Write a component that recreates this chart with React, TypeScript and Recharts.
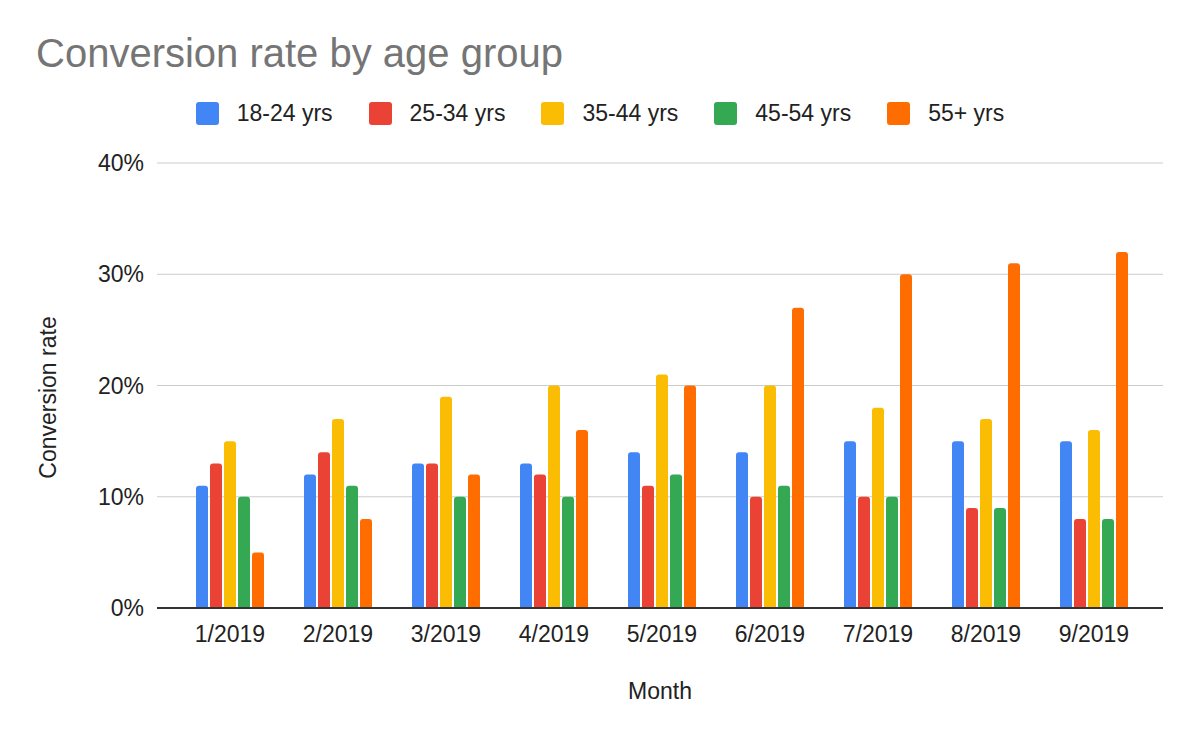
import React from 'react';
import { BarChart, Bar, XAxis, YAxis, CartesianGrid, Legend } from 'recharts';

const FONT = '"Liberation Sans", Arial, sans-serif';
const TEXT_SIZE = 23;

// Monthly conversion rate (%) per age group
const months = ['1/2019', '2/2019', '3/2019', '4/2019', '5/2019', '6/2019', '7/2019', '8/2019', '9/2019'];
const age18to24 = [11, 12, 13, 13, 14, 14, 15, 15, 15];
const age25to34 = [13, 14, 13, 12, 11, 10, 10, 9, 8];
const age35to44 = [15, 17, 19, 20, 21, 20, 18, 17, 16];
const age45to54 = [10, 11, 10, 10, 12, 11, 10, 9, 8];
const age55plus = [5, 8, 12, 16, 20, 27, 30, 31, 32];
const yTicks = [0, 10, 20, 30, 40];

const seriesDefs = [
  { key: 'a1824', name: '18-24 yrs', color: '#4285F4', values: age18to24 },
  { key: 'a2534', name: '25-34 yrs', color: '#EA4335', values: age25to34 },
  { key: 'a3544', name: '35-44 yrs', color: '#FBBC04', values: age35to44 },
  { key: 'a4554', name: '45-54 yrs', color: '#34A853', values: age45to54 },
  { key: 'a55', name: '55+ yrs', color: '#FF6D01', values: age55plus },
];

const chartData = months.map((month, i) => {
  const row: Record<string, string | number> = { month };
  seriesDefs.forEach((s) => {
    row[s.key] = s.values[i];
  });
  return row;
});

function LegendRow(props: any) {
  const payload = props.payload || [];
  return (
    <div style={{ display: 'flex', justifyContent: 'center', alignItems: 'center', width: 1200 }}>
      {payload.map((entry: any, i: number) => (
        <div key={entry.value} style={{ display: 'flex', alignItems: 'center', marginLeft: i === 0 ? 0 : 36 }}>
          <div style={{ width: 23, height: 23, borderRadius: 3, background: entry.color, marginRight: 18 }} />
          <span style={{ fontFamily: FONT, fontSize: TEXT_SIZE, lineHeight: '23px', color: '#222' }}>{entry.value}</span>
        </div>
      ))}
    </div>
  );
}

function YTitle(props: any) {
  const vb = props.viewBox || { x: 0, y: 0, width: 0, height: 0 };
  const x = vb.x + 56;
  const y = vb.y + vb.height / 2 + 12;
  return (
    <text
      x={x}
      y={y}
      transform={`rotate(-90 ${x} ${y})`}
      textAnchor="middle"
      fill="#222"
      fontSize={TEXT_SIZE}
      fontFamily={FONT}
    >
      {props.value}
    </text>
  );
}

export default function App() {
  return (
    <div style={{ position: 'absolute', left: 0, top: 0, width: 1200, height: 742, background: '#fff' }}>
      <div
        style={{
          position: 'absolute',
          left: 36,
          top: 33,
          fontFamily: FONT,
          fontSize: 40,
          lineHeight: '40px',
          color: '#757575',
          whiteSpace: 'nowrap',
        }}
      >
        Conversion rate by age group
      </div>
      <BarChart
        width={1200}
        height={742}
        data={chartData}
        margin={{ top: 163, right: 37, bottom: 0, left: 0 }}
        barSize={12}
        barGap={2}
        style={{ fontFamily: FONT }}
      >
        <CartesianGrid vertical={false} stroke="#cccccc" />
        <XAxis
          dataKey="month"
          height={134}
          padding={{ left: 19, right: 15 }}
          axisLine={{ stroke: '#333333', strokeWidth: 2 }}
          tickLine={false}
          tickSize={6}
          tickMargin={12}
          tick={{ fill: '#222', fontSize: TEXT_SIZE, fontFamily: FONT }}
          label={{ value: 'Month', position: 'insideBottom', offset: 43, fill: '#222', fontSize: TEXT_SIZE, fontFamily: FONT }}
        />
        <YAxis
          width={157}
          domain={[0, 40]}
          ticks={yTicks}
          axisLine={false}
          tickLine={false}
          tickSize={6}
          tickMargin={7}
          tickFormatter={(v: number) => `${v}%`}
          tick={{ fill: '#222', fontSize: TEXT_SIZE, fontFamily: FONT }}
          label={{ value: 'Conversion rate', content: YTitle }}
        />
        <Legend
          verticalAlign="middle"
          align="center"
          wrapperStyle={{ top: 102, left: 0, width: 1200 }}
          content={LegendRow}
        />
        {seriesDefs.map((s) => (
          <Bar key={s.key} dataKey={s.key} name={s.name} fill={s.color} radius={[3, 3, 0, 0]} isAnimationActive={false} />
        ))}
      </BarChart>
    </div>
  );
}
